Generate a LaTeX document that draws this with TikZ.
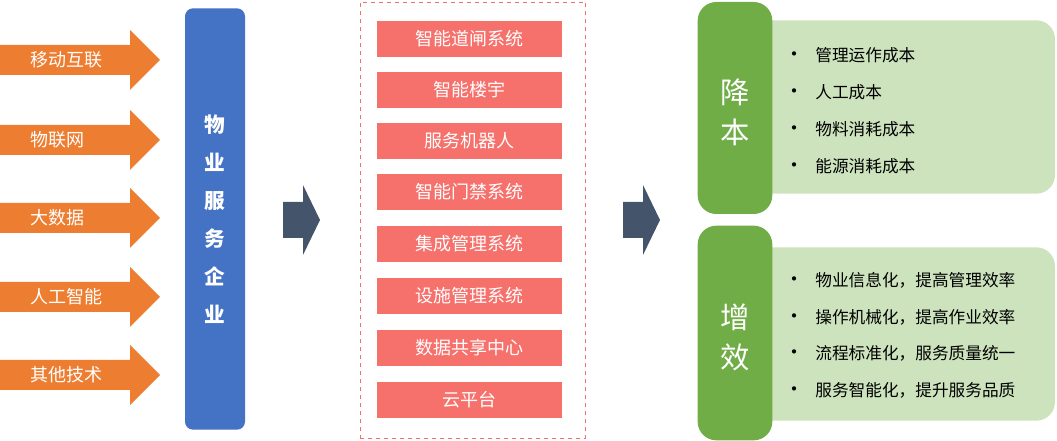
\documentclass[tikz,border=0pt]{standalone}
\usepackage{fontspec}
\setmainfont{Noto Sans CJK SC}
\definecolor{org}{HTML}{ED7D31}
\definecolor{blu}{HTML}{4472C4}
\definecolor{drk}{HTML}{44546A}
\definecolor{sal}{HTML}{F6716C}
\definecolor{grn}{HTML}{70AD47}
\definecolor{lgr}{HTML}{CCE3BD}
\tikzset{
 px/.style={x=0.75pt,y=-0.75pt},
 techtxt/.style={anchor=west, text=white, inner sep=0pt, font=\fontsize{13.5}{14}\selectfont},
 sys/.style={fill=sal, minimum width=139pt, minimum height=27pt, inner sep=0pt, text=white, font=\fontsize{13.5}{14}\selectfont},
 bul/.style={anchor=west, font=\fontsize{12.5}{14}\selectfont},
 vt/.style={text=white, font=\fontsize{22}{26}\selectfont, align=center}
}
\newcommand{\techarrow}[1]{\fill[org] (0,#1-15) -- (130,#1-15) -- (130,#1-30) -- (160,#1) -- (130,#1+30) -- (130,#1+15) -- (0,#1+15) -- cycle;}
\newcommand{\bigarrow}[1]{\fill[drk] (#1,202) -- (#1+20,202) -- (#1+20,185) -- (#1+37,220) -- (#1+20,255) -- (#1+20,238) -- (#1,238) -- cycle;}
\begin{document}
\begin{tikzpicture}[px]
\useasboundingbox (0,0) rectangle (1057,441);
\foreach \y/\t/\n in {60/移动互联/a1,140/物联网/a2,218/大数据/a3,297/人工智能/a4,375/其他技术/a5}{
 \techarrow{\y}
 \node[techtxt] (\n) at (30,\y) {\t};}
\node[fill=blu, rounded corners=6pt, minimum width=45pt, minimum height=316pt, text=white, font=\fontsize{15.5}{28.5}\selectfont\bfseries, align=center] (qy) at (215,219) {物\\业\\服\\务\\企\\业};
\bigarrow{283}
\coordinate (ar1) at (301,220);
\node[draw=sal, dashed, minimum width=169pt, minimum height=327pt] (box) at (472.5,220) {};
\foreach \y/\t/\n in {39/智能道闸系统/s1,90/智能楼宇/s2,141/服务机器人/s3,192/智能门禁系统/s4,244/集成管理系统/s5,296/设施管理系统/s6,348/数据共享中心/s7,400/云平台/s8}
 \node[sys] (\n) at (469.5,\y) {\t};
\bigarrow{623}
\coordinate (ar2) at (641,220);
\node[fill=lgr, rounded corners=14pt, minimum width=225pt, minimum height=130pt] (l1) at (905,107) {};
\node[fill=grn, rounded corners=14pt, minimum width=56pt, minimum height=159pt] (g1) at (735,108) {};
\node[vt] (t1) at (735,112) {降\\[4pt]本};
\foreach \y/\t/\n in {55/管理运作成本/b1,92/人工成本/b2,129/物料消耗成本/b3,166/能源消耗成本/b4}
 \node[bul] (\n) at (780,\y) {{\fontsize{15}{14}\selectfont •}\hspace{8pt}\t};
\node[fill=lgr, rounded corners=14pt, minimum width=225pt, minimum height=130pt] (l2) at (905,334) {};
\node[fill=grn, rounded corners=14pt, minimum width=56pt, minimum height=161pt] (g2) at (735,333) {};
\node[vt] (t2) at (735,337) {增\\[4pt]效};
\foreach \y/\t/\n in {280/物业信息化，提高管理效率/c1,317/操作机械化，提高作业效率/c2,353/流程标准化，服务质量统一/c3,390/服务智能化，提升服务品质/c4}
 \node[bul] (\n) at (780,\y) {{\fontsize{15}{14}\selectfont •}\hspace{8pt}\t};
\end{tikzpicture}
\end{document}
